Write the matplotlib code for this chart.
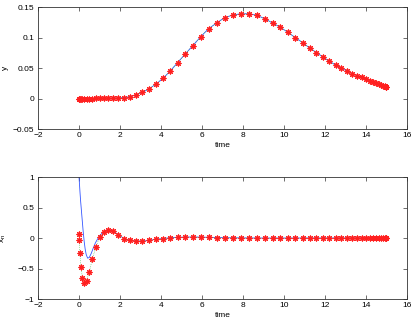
import matplotlib
matplotlib.use("Agg")
import matplotlib.pyplot as plt

# collocation times
t_nodes = [0.0, 0.010, 0.041, 0.092, 0.164, 0.256, 0.367, 0.498, 0.648, 0.817,
           1.005, 1.210, 1.432, 1.671, 1.926, 2.197, 2.481, 2.780, 3.092, 3.415,
           3.750, 4.095, 4.449, 4.812, 5.182, 5.559, 5.941, 6.327, 6.716, 7.107,
           7.500, 7.893, 8.284, 8.673, 9.059, 9.441, 9.818, 10.188, 10.551, 10.905,
           11.250, 11.585, 11.908, 12.220, 12.519, 12.803, 13.074, 13.329, 13.568, 13.790,
           13.995, 14.183, 14.352, 14.502, 14.633, 14.745, 14.836, 14.908, 14.959, 14.990,
           15.0]

y_nodes = [0, 0, 0, 0, 0, 0, 0, 0, 0, 0.0001,
           0.0001, 0.0002, 0.0003, 0.0005, 0.0009, 0.0016, 0.003, 0.006, 0.010, 0.016,
           0.0235, 0.033, 0.045, 0.059, 0.073, 0.087, 0.1016, 0.1147, 0.124, 0.1327,
           0.137, 0.139, 0.139, 0.1366, 0.131, 0.124, 0.117, 0.1087, 0.100, 0.0918,
           0.083, 0.0754, 0.068, 0.061, 0.055, 0.0497, 0.0453, 0.041, 0.0377, 0.035,
           0.032, 0.0295, 0.0273, 0.025, 0.0235, 0.022, 0.021, 0.0201, 0.0196, 0.0192,
           0.019]

xn_nodes = [0.06, -0.04, -0.24, -0.47, -0.65, -0.73, -0.70, -0.56, -0.35, -0.15,
            0.01, 0.10, 0.13, 0.11, 0.055, -0.01, -0.04, -0.05, -0.05, -0.04,
            -0.02, -0.01, 0.005, 0.01, 0.015, 0.016, 0.014, 0.011, 0.008, 0.005,
            0.003, 0.001, 0.0, -0.001, -0.001, -0.001, -0.001, -0.001, 0.0, 0.0,
            0.0, 0.0, 0.0, 0.0, 0.0, 0.0, 0.0, 0.0, 0.0, 0.0,
            0.0, 0.0, 0.0, 0.0, 0.0, 0.0, 0.0, 0.0, 0.0, 0.0,
            0.0]

# continuous (blue) solution for x_n
t_xn_line = [0.0, 0.02, 0.05, 0.08, 0.12, 0.16, 0.20, 0.25, 0.30, 0.35,
             0.42, 0.50, 0.60, 0.70, 0.80, 0.90, 1.00, 1.10, 1.20, 1.35,
             1.50, 1.671, 1.926, 2.197, 2.481, 2.780, 3.092, 3.415, 3.750, 4.095,
             4.449, 4.812, 5.182, 5.559, 5.941, 6.327, 6.716, 7.107, 7.500, 8.284,
             9.059, 10.188, 11.250, 12.519, 13.568, 14.352, 15.0]
xn_line = [1.0, 0.90, 0.74, 0.60, 0.44, 0.28, 0.12, -0.05, -0.18, -0.27,
           -0.33, -0.32, -0.25, -0.16, -0.08, -0.02, 0.03, 0.07, 0.10, 0.13,
           0.135, 0.11, 0.055, -0.01, -0.04, -0.05, -0.05, -0.04, -0.02, -0.01,
           0.005, 0.01, 0.015, 0.016, 0.014, 0.011, 0.008, 0.005, 0.003, 0.0,
           -0.001, -0.001, 0.0, 0.0, 0.0, 0.0, 0.0]

x_ticks = [-2, 0, 2, 4, 6, 8, 10, 12, 14, 16]
y_ticks_top = [-0.05, 0, 0.05, 0.1, 0.15]
y_labels_top = ["\u22120.05", "0", "0.05", "0.1", "0.15"]
y_ticks_bot = [-1, -0.5, 0, 0.5, 1]
y_labels_bot = ["\u22121", "\u22120.5", "0", "0.5", "1"]

plt.rcParams['font.family'] = ['Liberation Sans', 'DejaVu Sans']
fs = 6.0

fig = plt.figure(figsize=(4.15, 3.23), dpi=100)
ax1 = fig.add_axes([0.0916, 0.6006, 0.889, 0.3774])
ax2 = fig.add_axes([0.0916, 0.0743, 0.889, 0.3777])

blue = '#3355ff'
star = (8, 2, 0)

def style(ax):
    ax.set_xlim(-2, 16)
    ax.set_xticks(x_ticks)
    ax.set_xticklabels([("\u2212" + str(-v)) if v < 0 else str(v) for v in x_ticks])
    ax.tick_params(direction='in', top=True, right=True, length=3, width=0.5,
                   labelsize=fs, pad=2.5, color='#333333')
    for s in ax.spines.values():
        s.set_linewidth(0.6)
        s.set_color('#333333')
    ax.set_xlabel('time', fontsize=fs, labelpad=1.5)
    ax.yaxis.set_label_coords(-0.08, 0.5)

ax1.plot(t_nodes, y_nodes, color=blue, lw=0.6, zorder=2)
ax1.plot(t_nodes, y_nodes, color='#55bb55', lw=0.5, ls=':', zorder=2)
ax1.plot(t_nodes, y_nodes, ls='none', marker=star, color='#ff2020', ms=4.2, mew=0.8, zorder=3)
ax1.set_ylim(-0.05, 0.15)
ax1.set_yticks(y_ticks_top)
ax1.set_yticklabels(y_labels_top)
ax1.set_ylabel('y', fontsize=fs)
style(ax1)

ax2.plot(t_xn_line, xn_line, color=blue, lw=0.6, zorder=2)
ax2.plot(t_nodes, xn_nodes, color='#55bb55', lw=0.5, ls=':', zorder=2)
ax2.plot(t_nodes, xn_nodes, ls='none', marker=star, color='#ff2020', ms=4.2, mew=0.8, zorder=3)
ax2.set_ylim(-1, 1)
ax2.set_yticks(y_ticks_bot)
ax2.set_yticklabels(y_labels_bot)
ax2.set_ylabel('x$_\\mathregular{n}$', fontsize=fs)
style(ax2)

fig.savefig('out.png', dpi=100)
